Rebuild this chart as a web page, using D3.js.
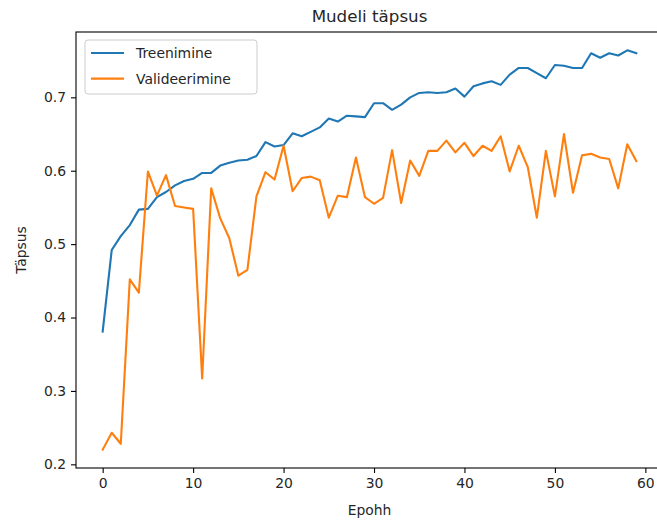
<!DOCTYPE html>
<html>
<head>
<meta charset="utf-8">
<script src="https://cdn.jsdelivr.net/npm/d3@7"></script>
<style>
  body{margin:0;background:#fff;}
  text{font-family:"DejaVu Sans",sans-serif;fill:#262626;}
</style>
</head>
<body>
<div id="Chart"></div>
<script>
// epochs 0..59
var epochs = d3.range(0, 60)
var treening = [0.381,0.492,0.511,0.526,0.547,0.548,0.564,0.571,0.580,0.586,
  0.589,0.597,0.597,0.607,0.611,0.614,0.615,0.620,0.639,0.633,
  0.635,0.651,0.647,0.653,0.659,0.671,0.667,0.675,0.674,0.673,
  0.692,0.692,0.683,0.690,0.700,0.706,0.707,0.706,0.707,0.712,
  0.701,0.715,0.719,0.722,0.717,0.731,0.740,0.740,0.733,0.726,
  0.744,0.743,0.740,0.740,0.760,0.754,0.760,0.757,0.764,0.760]
var valideerimine = [0.220,0.243,0.228,0.452,0.434,0.599,0.566,0.594,0.552,0.550,
  0.548,0.317,0.576,0.535,0.508,0.457,0.465,0.565,0.598,0.588,
  0.634,0.572,0.590,0.592,0.587,0.536,0.566,0.564,0.618,0.564,
  0.555,0.563,0.628,0.556,0.614,0.593,0.627,0.627,0.641,0.625,
  0.638,0.620,0.634,0.627,0.647,0.599,0.634,0.605,0.536,0.627,
  0.565,0.650,0.570,0.621,0.623,0.618,0.616,0.576,0.636,0.613]
var xTicks = [0,10,20,30,40,50,60]
var yTicks = [0.2,0.3,0.4,0.5,0.6,0.7]
var seriesNames = ["Treenimine","Valideerimine"]
var colors = ["#1f77b4","#ff7f0e"]

var Width=657, Height=521
var margin = {top: 32, right: -6, bottom: 53, left: 76},
    width = Width - margin.left - margin.right,
    height = Height - margin.top - margin.bottom

var svg = d3.select("#Chart")
  .append("svg")
    .attr("width",Width)
    .attr("height",Height)
  .append('g')
    .attr("transform",`translate(${margin.left},${margin.top})`)

var X = d3.scaleLinear() // matplotlib 5% margins
  .domain([-2.95, 61.95])
  .range([0,width])
var Y = d3.scaleLinear()
  .domain([0.195, 0.789])
  .range([height,0])

// axes
var xAxis = svg.append("g")
  .attr("transform",`translate(0,${height})`)
  .call(d3.axisBottom(X).tickValues(xTicks).tickSize(5).tickPadding(5).tickFormat(d3.format("d")))
var yAxis = svg.append("g")
  .call(d3.axisLeft(Y).tickValues(yTicks).tickSize(5).tickPadding(5).tickFormat(d3.format(".1f")))
svg.selectAll(".domain").remove()
svg.selectAll(".tick line").attr("stroke","#000").attr("stroke-width",1.1)
svg.selectAll(".tick text").style("font-size","13.9px").attr("fill","#262626")

// lines
var line = d3.line()
  .x((d,i)=>X(epochs[i]))
  .y(d=>Y(d))
var data = [treening, valideerimine]
svg.selectAll(".series")
  .data(data)
  .enter()
  .append("path")
    .attr("class","series")
    .attr("d",line)
    .attr("fill","none")
    .attr("stroke",(d,i)=>colors[i])
    .attr("stroke-width",2.1)
    .attr("stroke-linejoin","round")
    .attr("stroke-linecap","square")

// frame
svg.append("rect")
  .attr("x",0).attr("y",0)
  .attr("width",width).attr("height",height)
  .attr("fill","none")
  .attr("stroke","#000")
  .attr("stroke-width",1.1)

// title + labels
svg.append("text")
  .attr("x",width/2).attr("y",-10)
  .attr("text-anchor","middle")
  .style("font-size","16.7px")
  .text("Mudeli täpsus")
svg.append("text")
  .attr("x",width/2).attr("y",height+47)
  .attr("text-anchor","middle")
  .style("font-size","13.9px")
  .text("Epohh")
svg.append("text")
  .attr("transform",`translate(${-50},${height/2})rotate(-90)`)
  .attr("text-anchor","middle")
  .style("font-size","13.9px")
  .text("Täpsus")

// legend
var legend = svg.append("g").attr("transform","translate(9,8)")
legend.append("rect")
  .attr("width",172).attr("height",54)
  .attr("rx",3)
  .attr("fill","#fff").attr("fill-opacity",0.8)
  .attr("stroke","#ccc")
var item = legend.selectAll(".item")
  .data(seriesNames)
  .enter()
  .append("g")
    .attr("transform",(d,i)=>`translate(0,${13+i*25.6})`)
item.append("line")
  .attr("x1",6).attr("x2",39)
  .attr("stroke",(d,i)=>colors[i])
  .attr("stroke-width",2.1)
item.append("text")
  .attr("x",51).attr("y",5)
  .style("font-size","13.9px")
  .text(d=>d)
</script>
</body>
</html>
